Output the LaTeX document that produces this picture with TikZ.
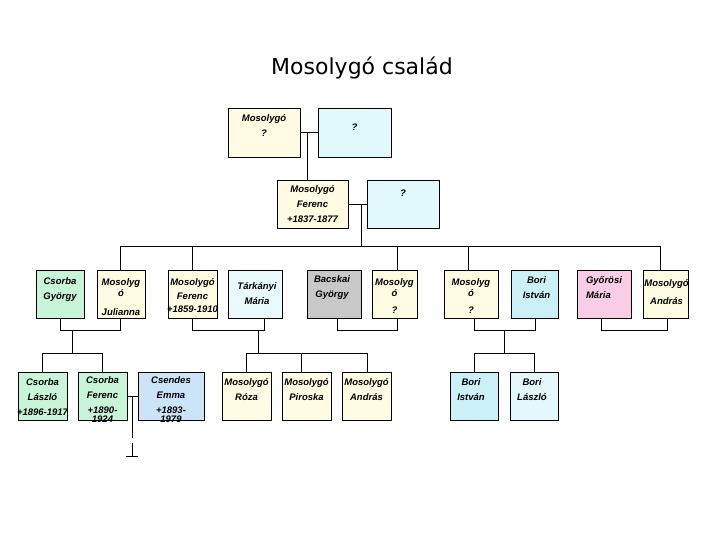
\documentclass[tikz,border=0pt]{standalone}
\usepackage{fontspec}
\setmainfont{Liberation Sans}
\newfontfamily\titlefont{DejaVu Sans}
\definecolor{cyell}{HTML}{FFFCE3}
\definecolor{ccyan}{HTML}{E1F8FC}
\definecolor{cmint}{HTML}{C8F4D8}
\definecolor{ccyanb}{HTML}{E8FAFD}
\definecolor{cgray}{HTML}{C8C8C8}
\definecolor{ccyanc}{HTML}{CCF0F8}
\definecolor{cpink}{HTML}{F9CDE5}
\definecolor{cblue}{HTML}{CCE4F8}
\definecolor{ccyand}{HTML}{E4F7FC}
\newcommand\fambox[6]{%
  \node[box, fill=#6, minimum width={(#4-#2)*1pt}, minimum height={(#5-#3)*1pt}] (#1) at ({(#2+#4)/2},{(#3+#5)/2}) {};}
\begin{document}
\begin{tikzpicture}[x=1pt,y=-1pt,
  box/.style={draw, line width=0.9pt, inner sep=0pt},
  txt/.style={font=\fontsize{9.5}{15}\selectfont\bfseries\itshape, align=center, inner sep=0pt},
  link/.style={line width=0.9pt}]
\useasboundingbox[fill=white] (0,0) rectangle (720,540);
\node[font=\titlefont\fontsize{22}{26}\selectfont, inner sep=0pt] (title) at (362,68) {Mosolygó család};
% row 1
\fambox{r1a}{228}{108}{300}{157}{cyell}
\fambox{r1b}{318}{108}{391}{157}{ccyan}
\node[txt, yshift=7pt] (r1at) at (r1a) {Mosolygó\\?};
\node[txt, yshift=5.5pt] (r1bt) at (r1b) {?};
% row 2
\fambox{r2a}{277}{180}{348}{228}{cyell}
\fambox{r2b}{367}{180}{439}{228}{ccyan}
\node[txt] (r2at) at (r2a) {Mosolygó\\Ferenc\\+1837-1877};
\node[txt, yshift=11pt] (r2bt) at (r2b) {?};
% row 3
\fambox{c1}{36}{270}{84}{318}{cmint}
\fambox{c2}{97}{270}{145}{318}{cyell}
\fambox{c3}{168}{270}{217}{318}{cyell}
\fambox{c4}{228}{270}{282}{318}{ccyanb}
\fambox{c5}{307}{270}{361}{318}{cgray}
\fambox{c6}{372}{270}{417}{318}{cyell}
\fambox{c7}{444}{270}{498}{318}{cyell}
\fambox{c8}{511}{270}{558}{318}{ccyanc}
\fambox{c9}{577}{270}{631}{318}{cpink}
\fambox{c10}{643}{270}{688}{318}{cyell}
\node[txt, yshift=4.5pt] (c1t) at (c1) {Csorba\\György};
\node[txt, yshift=-3pt] (c2t) at (c2) {Mosolyg\\[-4pt]ó\\[4pt]Julianna};
\node[txt, yshift=-1.5pt] (c3t) at (c3) {Mosolygó\\[-1pt]Ferenc\\[-2pt]+1859-1910};
\node[txt, xshift=2pt] (c4t) at (c4) {Tárkányi\\Mária};
\node[txt, yshift=6.5pt, xshift=-2pt] (c5t) at (c5) {Bacskai\\György};
\node[txt, yshift=-2.5pt] (c6t) at (c6) {Mosolyg\\[-4pt]ó\\[2pt]?};
\node[txt, yshift=-2.5pt] (c7t) at (c7) {Mosolyg\\[-4pt]ó\\[2pt]?};
\node[txt, yshift=6.5pt, xshift=2pt] (c8t) at (c8) {Bori\\István};
\node[txt, yshift=6.5pt, align=left] (c9t) at (c9) {Győrösi\\Mária};
\node[txt, yshift=2pt, xshift=1pt] (c10t) at (c10) {Mosolygó\\[3pt]András};
% row 4
\fambox{d1}{18}{372}{67}{420}{cmint}
\fambox{d2}{78}{372}{127}{420}{cmint}
\fambox{d3}{138}{372}{204}{420}{cblue}
\fambox{d4}{222}{372}{271}{420}{cyell}
\fambox{d5}{282}{372}{331}{420}{cyell}
\fambox{d6}{342}{372}{391}{420}{cyell}
\fambox{d7}{450}{372}{498}{420}{ccyanc}
\fambox{d8}{510}{372}{558}{420}{ccyand}
\node[txt, yshift=-1pt] (d1t) at (d1) {Csorba\\László\\+1896-1917};
\node[txt, anchor=north] (d2t) at ([yshift=-5pt]d2.north) {Csorba\\Ferenc\\+1890-\\[-6pt]1924};
\node[txt, anchor=north] (d3t) at ([yshift=-5pt]d3.north) {Csendes\\Emma\\+1893-\\[-6pt]1979};
\node[txt, yshift=6.5pt] (d4t) at (d4) {Mosolygó\\Róza};
\node[txt, yshift=6.5pt] (d5t) at (d5) {Mosolygó\\Piroska};
\node[txt, yshift=6.5pt] (d6t) at (d6) {Mosolygó\\András};
\node[txt, yshift=6.5pt, xshift=-3pt] (d7t) at (d7) {Bori\\István};
\node[txt, yshift=6.5pt, xshift=-2pt] (d8t) at (d8) {Bori\\László};
% connectors row1-row2
\coordinate (j1) at (307,132);
\draw[link] (r1a.east) -- (r1b.west);
\draw[link] (j1) -- (j1 |- r2a.north);
\coordinate (j2) at (361,205);
\coordinate (busL) at (120,246);
\coordinate (busR) at (660,246);
\draw[link] (r2a.east) -- (r2b.west);
\draw[link] (j2) -- (j2 |- busL);
\draw[link] (busL) -- (busR);
\coordinate (p2) at (120,246);
\coordinate (p3) at (192,246);
\coordinate (p6) at (397,246);
\coordinate (p7) at (468,246);
\coordinate (p10) at (660,246);
\draw[link] (p2) -- (p2 |- c2.north);
\draw[link] (p3) -- (p3 |- c3.north);
\draw[link] (p6) -- (p6 |- c6.north);
\draw[link] (p7) -- (p7 |- c7.north);
\draw[link] (p10) -- (p10 |- c10.north);
% couples row 3
\coordinate (k1a) at (60,330); \coordinate (k1b) at (120,330);
\draw[link] (k1a |- c1.south) -- (k1a) -- (k1b) -- (k1b |- c2.south);
\coordinate (k2a) at (192,330); \coordinate (k2b) at (264,330);
\draw[link] (k2a |- c3.south) -- (k2a) -- (k2b) -- (k2b |- c4.south);
\coordinate (k3a) at (337,330); \coordinate (k3b) at (397,330);
\draw[link] (k3a |- c5.south) -- (k3a) -- (k3b) -- (k3b |- c6.south);
\coordinate (k4a) at (474,330); \coordinate (k4b) at (535,330);
\draw[link] (k4a |- c7.south) -- (k4a) -- (k4b) -- (k4b |- c8.south);
\coordinate (k5a) at (601,330); \coordinate (k5b) at (667,330);
\draw[link] (k5a |- c9.south) -- (k5a) -- (k5b) -- (k5b |- c10.south);
% children buses
\coordinate (m1) at (72,330); \coordinate (n1) at (72,353);
\draw[link] (m1) -- (n1);
\coordinate (s1a) at (42,353); \coordinate (s1b) at (102,353);
\draw[link] (s1a |- d1.north) -- (s1a) -- (s1b) -- (s1b |- d2.north);
\coordinate (m2) at (258,330); \coordinate (n2) at (258,353);
\draw[link] (m2) -- (n2);
\coordinate (s2a) at (246,353); \coordinate (s2b) at (301,353); \coordinate (s2c) at (367,353);
\draw[link] (s2a |- d4.north) -- (s2a) -- (s2c) -- (s2c |- d6.north);
\draw[link] (s2b) -- (s2b |- d5.north);
\coordinate (m3) at (504,330); \coordinate (n3) at (504,353);
\draw[link] (m3) -- (n3);
\coordinate (s3a) at (474,353); \coordinate (s3b) at (534,353);
\draw[link] (s3a |- d7.north) -- (s3a) -- (s3b) -- (s3b |- d8.north);
% Csorba Ferenc - Csendes Emma
\coordinate (q1) at (132,397); \coordinate (q2) at (132,438);
\draw[link] (d2.east) -- (d3.west);
\draw[link] (q1) -- (q2);
\coordinate (q3) at (132,443); \coordinate (q4) at (132,456);
\coordinate (q5) at (126,456); \coordinate (q6) at (138,456);
\draw[link] (q3) -- (q4);
\draw[link] (q5) -- (q6);
\end{tikzpicture}
\end{document}
